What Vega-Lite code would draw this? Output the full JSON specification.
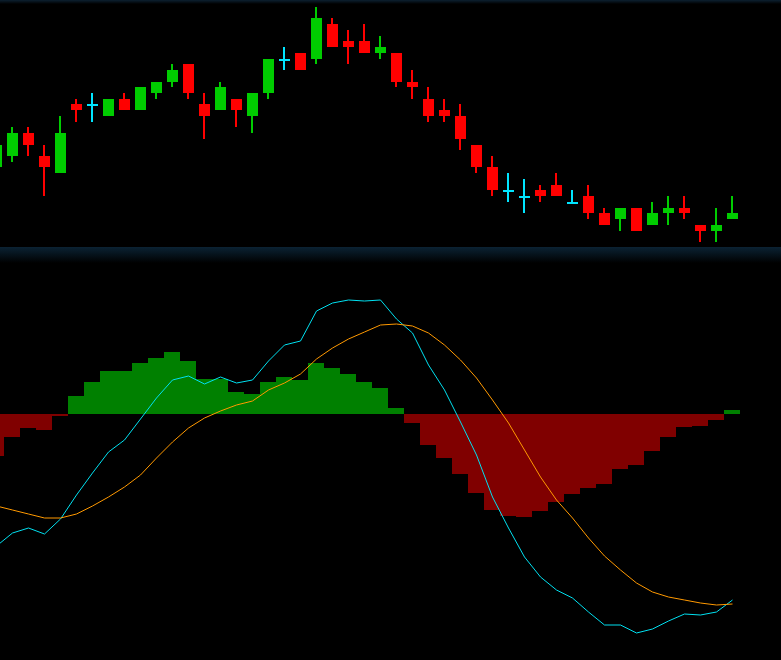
{
  "$schema": "https://vega.github.io/schema/vega-lite/v6.json",
  "background": "#000000",
  "padding": 0,
  "spacing": 0,
  "autosize": {"type": "pad"},
  "config": {"view": {"stroke": null}},
  "datasets": {
    "one": [{"a": 0}],
    "candles": [
      {"k": -1, "o": 14.0, "c": 15.1, "h": 15.35, "l": 13.85, "d": "up"},
      {"k": 0, "o": 14.55, "c": 15.7, "h": 16.0, "l": 14.25, "d": "up"},
      {"k": 1, "o": 15.7, "c": 15.1, "h": 16.0, "l": 14.55, "d": "down"},
      {"k": 2, "o": 14.55, "c": 14.0, "h": 15.1, "l": 12.55, "d": "down"},
      {"k": 3, "o": 13.7, "c": 15.7, "h": 16.55, "l": 13.7, "d": "up"},
      {"k": 4, "o": 17.15, "c": 16.85, "h": 17.4, "l": 16.25, "d": "down"},
      {"k": 5, "o": 17.1, "c": 17.1, "h": 17.7, "l": 16.25, "d": "doji"},
      {"k": 6, "o": 16.55, "c": 17.4, "h": 17.4, "l": 16.55, "d": "up"},
      {"k": 7, "o": 17.4, "c": 16.85, "h": 17.7, "l": 16.85, "d": "down"},
      {"k": 8, "o": 16.85, "c": 18.0, "h": 18.0, "l": 16.85, "d": "up"},
      {"k": 9, "o": 17.7, "c": 18.25, "h": 18.25, "l": 17.4, "d": "up"},
      {"k": 10, "o": 18.25, "c": 18.85, "h": 19.15, "l": 18.0, "d": "up"},
      {"k": 11, "o": 19.15, "c": 17.7, "h": 19.15, "l": 17.4, "d": "down"},
      {"k": 12, "o": 17.15, "c": 16.55, "h": 17.7, "l": 15.4, "d": "down"},
      {"k": 13, "o": 16.85, "c": 18.0, "h": 18.25, "l": 16.85, "d": "up"},
      {"k": 14, "o": 17.4, "c": 16.85, "h": 17.4, "l": 16.0, "d": "down"},
      {"k": 15, "o": 16.55, "c": 17.7, "h": 17.7, "l": 15.7, "d": "up"},
      {"k": 16, "o": 17.7, "c": 19.4, "h": 19.4, "l": 17.4, "d": "up"},
      {"k": 17, "o": 19.35, "c": 19.35, "h": 20.0, "l": 18.85, "d": "doji"},
      {"k": 18, "o": 19.7, "c": 18.85, "h": 19.7, "l": 18.85, "d": "down"},
      {"k": 19, "o": 19.4, "c": 21.45, "h": 22.0, "l": 19.15, "d": "up"},
      {"k": 20, "o": 21.15, "c": 20.0, "h": 21.45, "l": 20.0, "d": "down"},
      {"k": 21, "o": 20.3, "c": 20.0, "h": 20.85, "l": 19.15, "d": "down"},
      {"k": 22, "o": 20.3, "c": 19.7, "h": 21.15, "l": 19.7, "d": "down"},
      {"k": 23, "o": 19.7, "c": 20.0, "h": 20.55, "l": 19.4, "d": "up"},
      {"k": 24, "o": 19.7, "c": 18.25, "h": 19.7, "l": 18.0, "d": "down"},
      {"k": 25, "o": 18.25, "c": 18.0, "h": 18.85, "l": 17.4, "d": "down"},
      {"k": 26, "o": 17.4, "c": 16.55, "h": 18.0, "l": 16.25, "d": "down"},
      {"k": 27, "o": 16.85, "c": 16.55, "h": 17.4, "l": 16.25, "d": "down"},
      {"k": 28, "o": 16.55, "c": 15.4, "h": 17.15, "l": 14.85, "d": "down"},
      {"k": 29, "o": 15.1, "c": 14.0, "h": 15.1, "l": 13.7, "d": "down"},
      {"k": 30, "o": 14.0, "c": 12.85, "h": 14.55, "l": 12.55, "d": "down"},
      {"k": 31, "o": 12.8, "c": 12.8, "h": 13.7, "l": 12.25, "d": "doji"},
      {"k": 32, "o": 12.5, "c": 12.5, "h": 13.4, "l": 11.7, "d": "doji"},
      {"k": 33, "o": 12.85, "c": 12.55, "h": 13.1, "l": 12.25, "d": "down"},
      {"k": 34, "o": 13.1, "c": 12.55, "h": 13.7, "l": 12.55, "d": "down"},
      {"k": 35, "o": 12.2, "c": 12.2, "h": 12.85, "l": 12.2, "d": "doji"},
      {"k": 36, "o": 12.55, "c": 11.7, "h": 13.1, "l": 11.4, "d": "down"},
      {"k": 37, "o": 11.7, "c": 11.1, "h": 11.95, "l": 11.1, "d": "down"},
      {"k": 38, "o": 11.4, "c": 11.95, "h": 11.95, "l": 10.8, "d": "up"},
      {"k": 39, "o": 11.95, "c": 10.8, "h": 11.95, "l": 10.8, "d": "down"},
      {"k": 40, "o": 11.1, "c": 11.7, "h": 12.25, "l": 11.1, "d": "up"},
      {"k": 41, "o": 11.7, "c": 11.95, "h": 12.55, "l": 11.1, "d": "up"},
      {"k": 42, "o": 11.95, "c": 11.7, "h": 12.55, "l": 11.4, "d": "down"},
      {"k": 43, "o": 11.1, "c": 10.8, "h": 11.1, "l": 10.25, "d": "down"},
      {"k": 44, "o": 10.8, "c": 11.1, "h": 11.95, "l": 10.25, "d": "up"},
      {"k": 45, "o": 11.4, "c": 11.7, "h": 12.55, "l": 11.4, "d": "up"}
    ],
    "macd": [
      {"k": -1, "dif": -0.66, "dea": -0.46, "hist": -0.21},
      {"k": 0, "dif": -0.595, "dea": -0.48, "hist": -0.115},
      {"k": 1, "dif": -0.57, "dea": -0.5, "hist": -0.07},
      {"k": 2, "dif": -0.6, "dea": -0.52, "hist": -0.08},
      {"k": 3, "dif": -0.525, "dea": -0.52, "hist": -0.01},
      {"k": 4, "dif": -0.405, "dea": -0.5, "hist": 0.09},
      {"k": 5, "dif": -0.295, "dea": -0.46, "hist": 0.16},
      {"k": 6, "dif": -0.19, "dea": -0.415, "hist": 0.215},
      {"k": 7, "dif": -0.13, "dea": -0.365, "hist": 0.215},
      {"k": 8, "dif": -0.025, "dea": -0.305, "hist": 0.255},
      {"k": 9, "dif": 0.08, "dea": -0.22, "hist": 0.28},
      {"k": 10, "dif": 0.17, "dea": -0.14, "hist": 0.31},
      {"k": 11, "dif": 0.19, "dea": -0.07, "hist": 0.265},
      {"k": 12, "dif": 0.15, "dea": -0.02, "hist": 0.175},
      {"k": 13, "dif": 0.185, "dea": 0.015, "hist": 0.175},
      {"k": 14, "dif": 0.155, "dea": 0.045, "hist": 0.11},
      {"k": 15, "dif": 0.17, "dea": 0.065, "hist": 0.1},
      {"k": 16, "dif": 0.265, "dea": 0.12, "hist": 0.16},
      {"k": 17, "dif": 0.345, "dea": 0.155, "hist": 0.185},
      {"k": 18, "dif": 0.365, "dea": 0.2, "hist": 0.17},
      {"k": 19, "dif": 0.515, "dea": 0.275, "hist": 0.255},
      {"k": 20, "dif": 0.555, "dea": 0.33, "hist": 0.23},
      {"k": 21, "dif": 0.57, "dea": 0.375, "hist": 0.2},
      {"k": 22, "dif": 0.565, "dea": 0.41, "hist": 0.16},
      {"k": 23, "dif": 0.57, "dea": 0.445, "hist": 0.13},
      {"k": 24, "dif": 0.475, "dea": 0.45, "hist": 0.03},
      {"k": 25, "dif": 0.405, "dea": 0.44, "hist": -0.045},
      {"k": 26, "dif": 0.245, "dea": 0.405, "hist": -0.155},
      {"k": 27, "dif": 0.12, "dea": 0.345, "hist": -0.22},
      {"k": 28, "dif": -0.04, "dea": 0.27, "hist": -0.3},
      {"k": 29, "dif": -0.205, "dea": 0.18, "hist": -0.395},
      {"k": 30, "dif": -0.415, "dea": 0.07, "hist": -0.48},
      {"k": 31, "dif": -0.57, "dea": -0.045, "hist": -0.51},
      {"k": 32, "dif": -0.715, "dea": -0.18, "hist": -0.515},
      {"k": 33, "dif": -0.815, "dea": -0.315, "hist": -0.485},
      {"k": 34, "dif": -0.88, "dea": -0.43, "hist": -0.44},
      {"k": 35, "dif": -0.92, "dea": -0.52, "hist": -0.4},
      {"k": 36, "dif": -0.99, "dea": -0.62, "hist": -0.37},
      {"k": 37, "dif": -1.055, "dea": -0.71, "hist": -0.35},
      {"k": 38, "dif": -1.055, "dea": -0.78, "hist": -0.275},
      {"k": 39, "dif": -1.095, "dea": -0.845, "hist": -0.255},
      {"k": 40, "dif": -1.075, "dea": -0.89, "hist": -0.185},
      {"k": 41, "dif": -1.035, "dea": -0.915, "hist": -0.115},
      {"k": 42, "dif": -1.0, "dea": -0.93, "hist": -0.065},
      {"k": 43, "dif": -1.005, "dea": -0.945, "hist": -0.06},
      {"k": 44, "dif": -0.99, "dea": -0.955, "hist": -0.03},
      {"k": 45, "dif": -0.93, "dea": -0.95, "hist": 0.02}
    ]
  },
  "vconcat": [
    {
      "width": 781,
      "height": 4,
      "data": {"name": "one"},
      "mark": {
        "type": "rect",
        "fill": {"gradient": "linear", "x1": 0, "y1": 0, "x2": 0, "y2": 1, "stops": [{"offset": 0, "color": "#0c2030"}, {"offset": 1, "color": "#000000"}]}
      },
      "encoding": {
        "x": {"datum": 0, "type": "quantitative", "scale": {"domain": [0, 1], "nice": false, "zero": false, "padding": 0}, "axis": null},
        "x2": {"datum": 1},
        "y": {"datum": 0, "type": "quantitative", "scale": {"domain": [0, 1], "nice": false, "zero": false, "padding": 0}, "axis": null},
        "y2": {"datum": 1}
      }
    },
    {
      "width": 781,
      "height": 243,
      "data": {"name": "candles"},
      "encoding": {
        "x": {"field": "k", "type": "quantitative", "scale": {"domain": [-0.78125, 48.03125], "nice": false, "zero": false, "padding": 0}, "axis": null},
        "color": {"field": "d", "type": "nominal", "scale": {"domain": ["up", "down", "doji"], "range": ["#00cc00", "#ff0000", "#00e5ff"]}, "legend": null}
      },
      "layer": [
        {
          "mark": {"type": "rule", "strokeWidth": 2, "xOffset": -0.5, "clip": true},
          "encoding": {
            "y": {"field": "l", "type": "quantitative", "scale": {"domain": [10, 22.15], "nice": false, "zero": false, "padding": 0}, "axis": null},
            "y2": {"field": "h"}
          }
        },
        {
          "mark": {"type": "bar", "size": 11, "clip": true},
          "encoding": {
            "y": {"field": "o", "type": "quantitative", "axis": null},
            "y2": {"field": "c"}
          }
        },
        {
          "transform": [{"filter": "datum.d === 'doji'"}],
          "mark": {"type": "tick", "orient": "horizontal", "size": 11, "thickness": 2, "clip": true, "opacity": 1},
          "encoding": {
            "y": {"field": "o", "type": "quantitative", "axis": null}
          }
        }
      ],
      "resolve": {"scale": {"y": "shared"}}
    },
    {
      "width": 781,
      "height": 16,
      "data": {"name": "one"},
      "mark": {
        "type": "rect",
        "fill": {"gradient": "linear", "x1": 0, "y1": 0, "x2": 0, "y2": 1, "stops": [{"offset": 0, "color": "#0b2233"}, {"offset": 0.35, "color": "#071722"}, {"offset": 1, "color": "#000000"}]}
      },
      "encoding": {
        "x": {"datum": 0, "type": "quantitative", "scale": {"domain": [0, 1], "nice": false, "zero": false, "padding": 0}, "axis": null},
        "x2": {"datum": 1},
        "y": {"datum": 0, "type": "quantitative", "scale": {"domain": [0, 1], "nice": false, "zero": false, "padding": 0}, "axis": null},
        "y2": {"datum": 1}
      }
    },
    {
      "width": 781,
      "height": 397,
      "data": {"name": "macd"},
      "encoding": {
        "x": {"field": "k", "type": "quantitative", "scale": {"domain": [-0.78125, 48.03125], "nice": false, "zero": false, "padding": 0}, "axis": null}
      },
      "layer": [
        {
          "mark": {"type": "bar", "size": 16, "xOffset": -0.5, "clip": true},
          "encoding": {
            "y": {"field": "hist", "type": "quantitative", "scale": {"domain": [-1.23, 0.755], "nice": false, "zero": false, "padding": 0}, "axis": null},
            "y2": {"datum": 0},
            "color": {"condition": {"test": "datum.hist >= 0", "value": "#008000"}, "value": "#800000"}
          }
        },
        {
          "mark": {"type": "line", "stroke": "#00e0f0", "strokeWidth": 1, "clip": true},
          "encoding": {
            "y": {"field": "dif", "type": "quantitative", "axis": null}
          }
        },
        {
          "mark": {"type": "line", "stroke": "#ff9900", "strokeWidth": 1, "clip": true},
          "encoding": {
            "y": {"field": "dea", "type": "quantitative", "axis": null}
          }
        }
      ]
    }
  ]
}
